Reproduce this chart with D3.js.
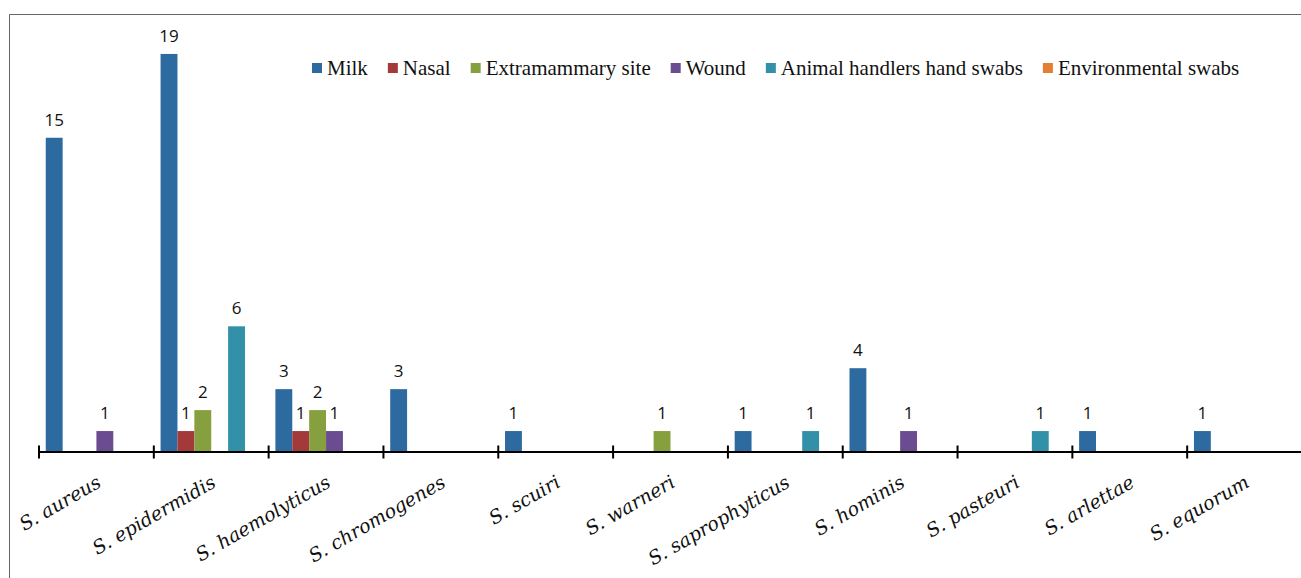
<!DOCTYPE html>
<html>
<head>
<meta charset="utf-8">
<script src="https://cdn.jsdelivr.net/npm/d3@7"></script>
</head>
<body style="margin:0">
<svg id="chart" width="1301" height="578" style="position:absolute;left:0;top:0"></svg>
<script>
// categories and series
const species = ["S. aureus", "S. epidermidis", "S. haemolyticus", "S. chromogenes", "S. scuiri",
  "S. warneri", "S. saprophyticus", "S. hominis", "S. pasteuri", "S. arlettae", "S. equorum"];
const sources = ["Milk", "Nasal", "Extramammary site", "Wound", "Animal handlers hand swabs", "Environmental swabs"];
const colors = ["#2d6aa0", "#a3393a", "#86a03f", "#6b4c90", "#3290a8", "#e57e32"];

const milk          = [15, 19, 3, 3, 1, 0, 1, 4, 0, 1, 1];
const nasal         = [0, 1, 1, 0, 0, 0, 0, 0, 0, 0, 0];
const extramammary  = [0, 2, 2, 0, 0, 1, 0, 0, 0, 0, 0];
const wound         = [1, 0, 1, 0, 0, 0, 0, 1, 0, 0, 0];
const handSwabs     = [0, 6, 0, 0, 0, 0, 1, 0, 1, 0, 0];
const envSwabs      = [0, 0, 0, 0, 0, 0, 0, 0, 0, 0, 0];
const seriesValues = [milk, nasal, extramammary, wound, handSwabs, envSwabs];

const svg = d3.select("#chart");

const x0 = d3.scaleBand().domain(species).range([39, 1302]).padding(0);
const x1 = d3.scaleBand().domain(sources).range([0, x0.bandwidth()]).paddingInner(0).paddingOuter(0.4);
const y = d3.scaleLinear().domain([0, 20]).range([452, 33]);

// outer frame (runs off the right / bottom edge)
svg.append("path")
  .attr("d", "M9.5,578 V14.5 H1301")
  .attr("fill", "none")
  .attr("stroke", "#666")
  .attr("stroke-width", 1);

const cells = [];
species.forEach((sp, i) => {
  sources.forEach((src, j) => {
    const v = seriesValues[j][i];
    if (v > 0) cells.push({ sp, src, v, color: colors[j] });
  });
});

svg.selectAll("rect.bar")
  .data(cells)
  .join("rect")
  .attr("class", "bar")
  .attr("x", d => x0(d.sp) + x1(d.src))
  .attr("y", d => y(d.v))
  .attr("width", x1.bandwidth())
  .attr("height", d => y(0) - y(d.v))
  .attr("fill", d => d.color);

svg.selectAll("text.val")
  .data(cells)
  .join("text")
  .attr("class", "val")
  .attr("x", d => x0(d.sp) + x1(d.src) + x1.bandwidth() / 2)
  .attr("y", d => y(d.v) - 12)
  .attr("text-anchor", "middle")
  .style("font-family", "Open Sans")
  .style("font-size", "17px")
  .attr("fill", "#111")
  .text(d => d.v);

// category axis
const axisY = y(0);
svg.append("line")
  .attr("x1", x0.range()[0]).attr("x2", x0.range()[1])
  .attr("y1", axisY).attr("y2", axisY)
  .attr("stroke", "#000").attr("stroke-width", 2.2);

const bounds = d3.range(species.length + 1).map(i => x0.range()[0] + i * x0.step());
svg.selectAll("line.tick")
  .data(bounds)
  .join("line")
  .attr("class", "tick")
  .attr("x1", d => d).attr("x2", d => d)
  .attr("y1", axisY - 6.5).attr("y2", axisY + 6.5)
  .attr("stroke", "#000").attr("stroke-width", 2);

// category labels
svg.selectAll("text.cat")
  .data(species)
  .join("text")
  .attr("class", "cat")
  .attr("transform", d => `translate(${x0(d) + x0.bandwidth() / 2 + 6},486) rotate(-30)`)
  .attr("text-anchor", "end")
  .style("font-family", "DejaVu Serif")
  .style("font-style", "italic")
  .style("font-size", "19px")
  .attr("fill", "#111")
  .text(d => d);

// legend, laid out by measured text length
const legend = svg.append("g").attr("transform", "translate(312,75)");
let lx = 0;
sources.forEach((src, j) => {
  legend.append("rect")
    .attr("x", lx).attr("y", -12)
    .attr("width", 10).attr("height", 10)
    .attr("fill", colors[j]);
  const t = legend.append("text")
    .attr("x", lx + 15).attr("y", 0)
    .style("font-family", "Liberation Serif")
    .style("font-size", "21px")
    .attr("fill", "#111")
    .text(src);
  lx += 15 + t.node().getComputedTextLength() + 20;
});
</script>
</body>
</html>
